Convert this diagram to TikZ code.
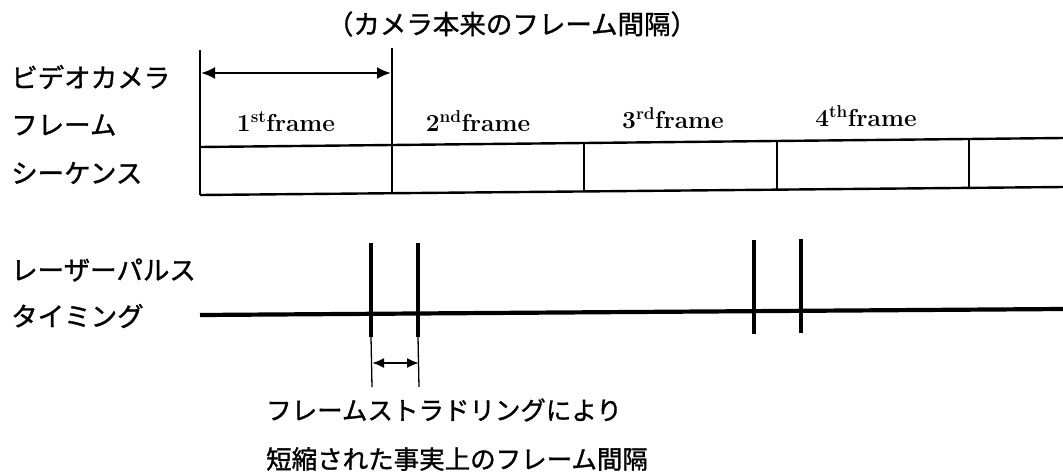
\documentclass[tikz,border=0pt]{standalone}
\usepackage{fontspec}
\newfontfamily\jp[FakeBold=1.2]{Noto Sans CJK JP}
\usetikzlibrary{arrows.meta}
\begin{document}
\begin{tikzpicture}[x=1pt,y=-1pt,
  jlabel/.style={font=\jp\fontsize{26.5}{30}\selectfont, anchor=west, inner sep=0pt},
  blabel/.style={font=\jp\fontsize{25.5}{30}\selectfont, anchor=west, inner sep=0pt},
  flabel/.style={font=\bfseries\fontsize{24.5}{28}\selectfont, inner sep=0pt},
  boxline/.style={line width=2.4pt},
  pulse/.style={line width=3.8pt},
  dim/.style={line width=2.2pt, {Latex[length=14pt,width=12pt]}-{Latex[length=14pt,width=12pt]}},
  sdim/.style={line width=2pt, {Latex[length=12pt,width=10pt]}-{Latex[length=12pt,width=10pt]}},
  ext/.style={line width=1.3pt}]
\useasboundingbox (0,0) rectangle (1063,472);
% labels
\node[jlabel] (l1) at (11,77) {ビデオカメラ};
\node[jlabel] (l2) at (11,125) {フレーム};
\node[jlabel] (l3) at (11,173) {シーケンス};
\node[jlabel] (l4) at (11,270) {レーザーパルス};
\node[jlabel] (l5) at (11,316) {タイミング};
\node[font=\jp\fontsize{26.5}{30}\selectfont, inner sep=0pt] (top) at (512,24) {（カメラ本来のフレーム間隔）};
\node[blabel] (b1) at (266,410) {フレームストラドリングにより};
\node[blabel] (b2) at (266,459) {短縮された事実上のフレーム間隔};
% frame labels
\node[flabel] (f1) at (286,122) {1\textsuperscript{st}frame};
\node[flabel] (f2) at (478,121) {2\textsuperscript{nd}frame};
\node[flabel] (f3) at (673,118) {3\textsuperscript{rd}frame};
\node[flabel] (f4) at (866,116) {4\textsuperscript{th}frame};
% frame box coordinates
\coordinate (ml) at (200,147);
\coordinate (mr) at (1063,138);
\coordinate (bl) at (200,195);
\coordinate (br) at (1063,187);
\coordinate (tl) at (200,50);
\coordinate (t2) at (392,48);
\coordinate (m2) at (392,145);
\coordinate (b2c) at (392,193);
\coordinate (m3) at (584,143);
\coordinate (b3) at (584,191);
\coordinate (m4) at (777,141);
\coordinate (b4) at (777,189);
\coordinate (m5) at (969,139);
\coordinate (b5) at (969,188);
\draw[boxline] (tl) -- (bl);
\draw[boxline] (t2) -- (b2c);
\draw[boxline] (ml) -- (mr);
\draw[boxline] (bl) -- (br);
\draw[boxline] (m3) -- (b3);
\draw[boxline] (m4) -- (b4);
\draw[boxline] (m5) -- (b5);
\coordinate (al) at (201,73);
\coordinate (ar) at (391,73);
\draw[dim] (al) -- (ar);
% timing line
\coordinate (tll) at (200,315);
\coordinate (tlr) at (1063,309);
\draw[line width=4.2pt] (tll) -- (tlr);
\coordinate (p1t) at (371,243);
\coordinate (p1b) at (371,337);
\coordinate (p2t) at (418,243);
\coordinate (p2b) at (418,337);
\coordinate (p3t) at (754,240);
\coordinate (p3b) at (754,334);
\coordinate (p4t) at (801,239);
\coordinate (p4b) at (801,333);
\draw[pulse] (p1t) -- (p1b);
\draw[pulse] (p2t) -- (p2b);
\draw[pulse] (p3t) -- (p3b);
\draw[pulse] (p4t) -- (p4b);
\coordinate (e1) at (372,387);
\coordinate (e2) at (419,387);
\draw[ext] (p1b) -- (e1);
\draw[ext] (p2b) -- (e2);
\coordinate (s1) at (372,363);
\coordinate (s2) at (419,363);
\draw[sdim] (s1) -- (s2);
\end{tikzpicture}
\end{document}
